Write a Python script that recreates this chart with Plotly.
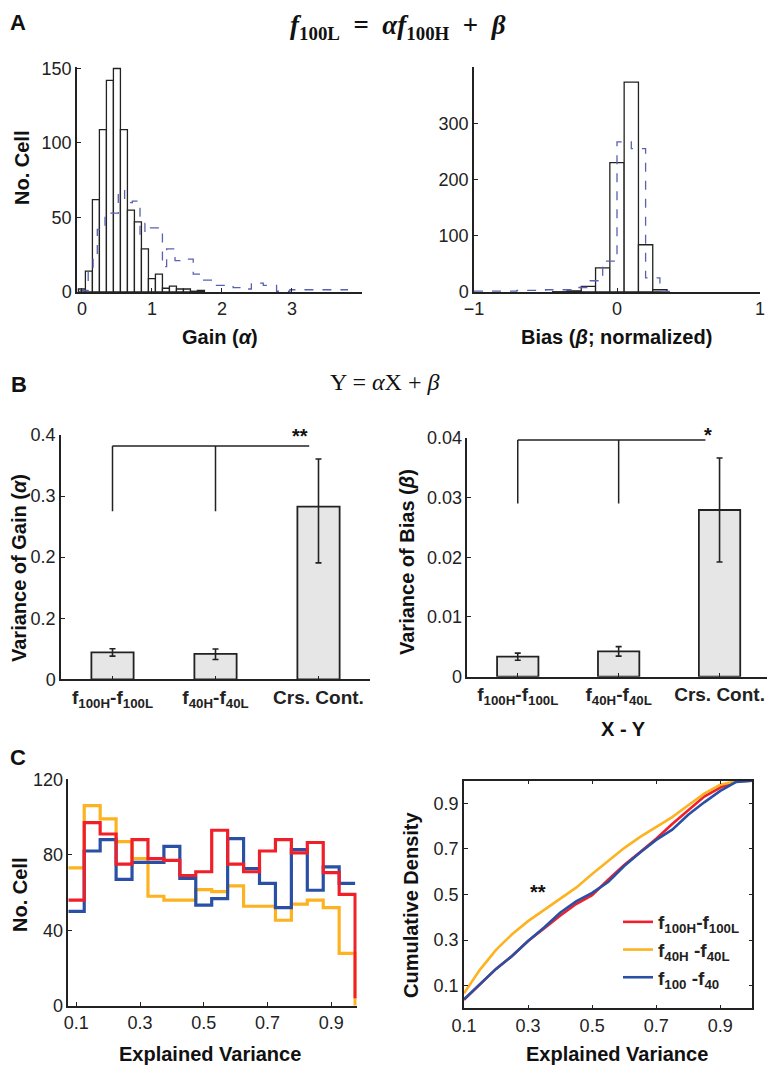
import plotly.graph_objects as go

# page body has an 8px margin, so the figure is 8px smaller on each axis
OFF = 8
W, H = 775 - OFF, 1067 - OFF

# ---- panel A: gain / bias histograms ----
gain_centers = [0.0, 0.1, 0.2, 0.3, 0.4, 0.5, 0.6, 0.7, 0.8, 0.9, 1.0, 1.1, 1.2, 1.3, 1.4, 1.5, 1.6, 1.7]
gain_counts = [2, 14, 62, 109, 142, 150, 109, 55, 47, 29, 9, 12, 2.5, 4, 2, 2, 0.5, 1]
gain_ctrl_edges = [-0.03, 0.09, 0.16, 0.22, 0.33, 0.52, 0.61, 0.72, 0.83, 0.90, 0.97, 1.15, 1.21,
                   1.33, 1.40, 1.59, 1.69, 1.90, 2.16, 2.35, 2.42, 2.59, 2.78, 2.97, 3.8]
gain_ctrl_counts = [1, 15, 22, 42, 53, 68, 60, 61, 38, 46, 43, 17, 29, 21, 22, 12, 8, 4.5, 3, 2, 6, 4.5, 0.5, 1.5]

bias_centers = [-0.4, -0.3, -0.2, -0.1, 0.0, 0.1, 0.2, 0.3]
bias_counts = [0.5, 2, 10, 43, 230, 373, 84, 4]
bias_ctrl_edges = [-1.0, -0.7, -0.5, -0.3, -0.2, -0.1, 0.0, 0.1, 0.2, 0.3, 0.4]
bias_ctrl_counts = [1.5, 3, 4, 8, 20, 55, 267, 255, 25, 1]

# ---- panel B: variance bars ----
pairs = ["<b>f<sub>100H</sub>-f<sub>100L</sub></b>", "<b>f<sub>40H</sub>-f<sub>40L</sub></b>", "<b>Crs. Cont.</b>"]
var_gain = [0.044, 0.0415, 0.2826]
var_gain_up = [0.006, 0.008, 0.078]
var_gain_dn = [0.006, 0.009, 0.092]
var_bias = [0.00335, 0.00424, 0.0279]
var_bias_err = [0.0006, 0.0008, 0.0087]

# ---- panel C: explained variance ----
ev_edges = [0.075, 0.125, 0.175, 0.225, 0.275, 0.325, 0.375, 0.425, 0.475, 0.525,
            0.575, 0.625, 0.675, 0.725, 0.775, 0.825, 0.875, 0.925, 0.975]
ev_red = [56, 97, 91, 75, 88, 78, 77, 69, 71, 93, 75, 71, 82, 88, 81, 86.5, 70.5, 59]
ev_yellow = [73, 106, 99, 87, 78, 58, 56, 56, 61.5, 60.5, 63.5, 52.7, 52.7, 45.3, 53.8, 56, 52, 27.7]
ev_blue = [50, 82, 88, 67, 76, 76, 84.5, 67.5, 53.3, 56.8, 88.6, 72.7, 64.8, 52, 82.7, 61.2, 73.6, 64.8]

cdf_x = [0.1, 0.15, 0.2, 0.25, 0.3, 0.35, 0.4, 0.45, 0.5, 0.55, 0.6, 0.65, 0.7, 0.75, 0.8, 0.85, 0.9, 0.95, 1.0]
cdf_red = [0.037, 0.105, 0.173, 0.23, 0.296, 0.351, 0.407, 0.458, 0.497, 0.565, 0.63, 0.687, 0.745, 0.81, 0.87, 0.93, 0.97, 0.998, 1.0]
cdf_yellow = [0.066, 0.17, 0.257, 0.325, 0.383, 0.432, 0.48, 0.53, 0.59, 0.648, 0.704, 0.753, 0.797, 0.84, 0.892, 0.943, 0.982, 0.998, 1.0]
cdf_blue = [0.04, 0.105, 0.173, 0.23, 0.296, 0.355, 0.42, 0.47, 0.507, 0.555, 0.625, 0.685, 0.74, 0.785, 0.85, 0.905, 0.955, 0.995, 1.0]
legend_names = ["<b>f<sub>100H</sub>-f<sub>100L</sub></b>", "<b>f<sub>40H</sub> -f<sub>40L</sub></b>", "<b>f<sub>100</sub> -f<sub>40</sub></b>"]

RED, YEL, BLU = "#f0202a", "#fdb321", "#2a50a5"
DASH = "#5961b0"
SANS = "Liberation Sans, Arial, sans-serif"
SERIF = "Liberation Serif, Times New Roman, serif"


def px_x(px):
    return (px - OFF) / W


def px_y(py):
    return 1 - (py - OFF) / H


fig = go.Figure()

# A left
fig.add_trace(go.Bar(x=gain_centers, y=gain_counts, width=0.1, xaxis="x", yaxis="y",
                     marker=dict(color="white", line=dict(color="#222", width=1.3)), showlegend=False))
fig.add_trace(go.Scatter(x=gain_ctrl_edges, y=gain_ctrl_counts + [gain_ctrl_counts[-1]], mode="lines",
                         line=dict(color=DASH, dash="dash", width=1.3, shape="hv"),
                         xaxis="x", yaxis="y", showlegend=False))
# A right
fig.add_trace(go.Bar(x=bias_centers, y=bias_counts, width=0.1, xaxis="x2", yaxis="y2",
                     marker=dict(color="white", line=dict(color="#222", width=1.3)), showlegend=False))
fig.add_trace(go.Scatter(x=bias_ctrl_edges, y=bias_ctrl_counts + [bias_ctrl_counts[-1]], mode="lines",
                         line=dict(color=DASH, dash="dash", width=1.3, shape="hv"),
                         xaxis="x2", yaxis="y2", showlegend=False))

# B bars
fig.add_trace(go.Bar(x=[0, 1, 2], y=var_gain, width=0.41, xaxis="x3", yaxis="y3", showlegend=False,
                     marker=dict(color="#e6e6e6", line=dict(color="#222", width=1.8)),
                     error_y=dict(type="data", array=var_gain_up, arrayminus=var_gain_dn,
                                  color="#222", thickness=1.6, width=3)))
fig.add_trace(go.Bar(x=[0, 1, 2], y=var_bias, width=0.41, xaxis="x4", yaxis="y4", showlegend=False,
                     marker=dict(color="#e6e6e6", line=dict(color="#222", width=1.8)),
                     error_y=dict(type="data", array=var_bias_err,
                                  color="#222", thickness=1.6, width=3)))

# C left step histograms
for vals, col, drop in [(ev_yellow, YEL, 0), (ev_blue, BLU, None), (ev_red, RED, 4)]:
    xs = list(ev_edges)
    ys = vals + [vals[-1]]
    if drop is not None:
        xs = xs + [ev_edges[-1]]
        ys = ys + [drop]
    fig.add_trace(go.Scatter(x=xs, y=ys, mode="lines", line=dict(color=col, width=3.2, shape="hv"),
                             xaxis="x5", yaxis="y5", showlegend=False))

# C right cumulative curves
for vals, col, name in [(cdf_red, RED, legend_names[0]), (cdf_yellow, YEL, legend_names[1]),
                        (cdf_blue, BLU, legend_names[2])]:
    fig.add_trace(go.Scatter(x=cdf_x, y=vals, mode="lines", name=name, line=dict(color=col, width=2.6),
                             xaxis="x6", yaxis="y6"))

axis_style = dict(showline=True, linecolor="#222", linewidth=1.5, ticks="inside", ticklen=4,
                  tickcolor="#222", showgrid=False, zeroline=False, automargin=False,
                  tickfont=dict(family=SANS, size=18, color="#222"))

fig.update_layout(
    width=W, height=H, margin=dict(l=0, r=0, t=0, b=0, autoexpand=False),
    paper_bgcolor="white", plot_bgcolor="white", barmode="overlay",
    xaxis=dict(axis_style, domain=[px_x(77), px_x(362)], anchor="y", range=[-0.07, 4.0],
               tickvals=[0, 1, 2, 3]),
    yaxis=dict(axis_style, domain=[px_y(292), px_y(67)], anchor="x", range=[0, 151],
               tickvals=[0, 50, 100, 150]),
    xaxis2=dict(axis_style, domain=[px_x(474), px_x(760)], anchor="y2", range=[-1, 1],
                tickvals=[-1, 0, 1]),
    yaxis2=dict(axis_style, domain=[px_y(292), px_y(67)], anchor="x2", range=[0, 400],
                tickvals=[0, 100, 200, 300]),
    xaxis3=dict(axis_style, domain=[px_x(61), px_x(370)], anchor="y3", range=[-0.5, 2.5],
                tickvals=[0, 1, 2], ticktext=pairs, tickfont=dict(family=SANS, size=19, color="#222")),
    yaxis3=dict(axis_style, domain=[px_y(679.3), px_y(435)], anchor="x3", range=[0, 0.4],
                tickvals=[0, 0.1, 0.2, 0.3, 0.4], ticktext=["0", "0.2", "0.2", "0.3", "0.4"]),
    xaxis4=dict(axis_style, domain=[px_x(467.3), px_x(770)], anchor="y4", range=[-0.5, 2.5],
                tickvals=[0, 1, 2], ticktext=pairs, tickfont=dict(family=SANS, size=19, color="#222")),
    yaxis4=dict(axis_style, domain=[px_y(676.7), px_y(437.7)], anchor="x4", range=[0, 0.04],
                tickvals=[0, 0.01, 0.02, 0.03, 0.04], ticktext=["0", "0.01", "0.02", "0.03", "0.04"]),
    xaxis5=dict(axis_style, domain=[px_x(68.3), px_x(356.7)], anchor="y5", range=[0.075, 0.98],
                tickvals=[0.1, 0.3, 0.5, 0.7, 0.9]),
    yaxis5=dict(axis_style, domain=[px_y(1005.7), px_y(779.3)], anchor="x5", range=[0, 120],
                tickvals=[0, 40, 80, 120]),
    xaxis6=dict(axis_style, domain=[px_x(464), px_x(752.3)], anchor="y6", range=[0.1, 1.0],
                tickvals=[0.1, 0.3, 0.5, 0.7, 0.9], mirror="ticks"),
    yaxis6=dict(axis_style, domain=[px_y(1008.3), px_y(780.7)], anchor="x6", range=[0, 1.0],
                tickvals=[0.1, 0.3, 0.5, 0.7, 0.9], mirror="ticks"),
    legend=dict(x=px_x(618), y=px_y(903), xanchor="left", yanchor="top", bgcolor="rgba(0,0,0,0)",
                font=dict(family=SANS, size=19, color="#222"), tracegroupgap=0, itemwidth=30),
)

# significance brackets
for xr, yr, x0, x1, xm, ylo, ytop in [("x3", "y3", 0, 1.91, 1, 0.275, 0.382),
                                      ("x4", "y4", 0, 1.86, 1, 0.029, 0.0396)]:
    fig.add_shape(type="line", xref=xr, yref=yr, x0=x0, x1=x1, y0=ytop, y1=ytop, line=dict(color="#222", width=1.5))
    fig.add_shape(type="line", xref=xr, yref=yr, x0=x0, x1=x0, y0=ylo, y1=ytop, line=dict(color="#222", width=1.5))
    fig.add_shape(type="line", xref=xr, yref=yr, x0=xm, x1=xm, y0=ylo, y1=ytop, line=dict(color="#222", width=1.5))


def note(text, px, py, size=20, bold=True, angle=0, family=SANS, yanchor="middle"):
    fig.add_annotation(text=f"<b>{text}</b>" if bold else text, x=px_x(px), y=px_y(py),
                       xref="paper", yref="paper", showarrow=False, textangle=angle,
                       font=dict(family=family, size=size, color="#111"), xanchor="center", yanchor=yanchor)


sp = "&nbsp;"
note("A", 18, 8.5, size=22, yanchor="top")
note("B", 19, 384, size=22)
note("C", 18, 757, size=22)
note(f"<i>f</i><sub>100L</sub>{sp*2}={sp*2}<i>αf</i><sub>100H</sub>{sp*2}+{sp*2}<i>β</i>", 398, 8.5,
     size=27, family=SERIF, yanchor="top")
note("Y = <i>α</i>X + <i>β</i>", 384, 382, size=24, bold=False, family=SERIF)

note("No. Cell", 22, 168, angle=-90)
note("Gain (<i>α</i>)", 220, 337)
note("Bias (<i>β</i>; normalized)", 616, 337)
note("Variance of Gain (<i>α</i>)", 19, 568, angle=-90)
note("Variance of Bias (<i>β</i>)", 407, 562, angle=-90)
note("X - Y", 623, 729)
note("No. Cell", 20, 895, angle=-90)
note("Explained Variance", 210, 1054)
note("Cumulative Density", 411, 905, angle=-90)
note("Explained Variance", 617, 1054)

# significance stars
note("**", 300, 436)
note("*", 708, 435)
note("**", 538, 892)

fig.write_html("out.html")
